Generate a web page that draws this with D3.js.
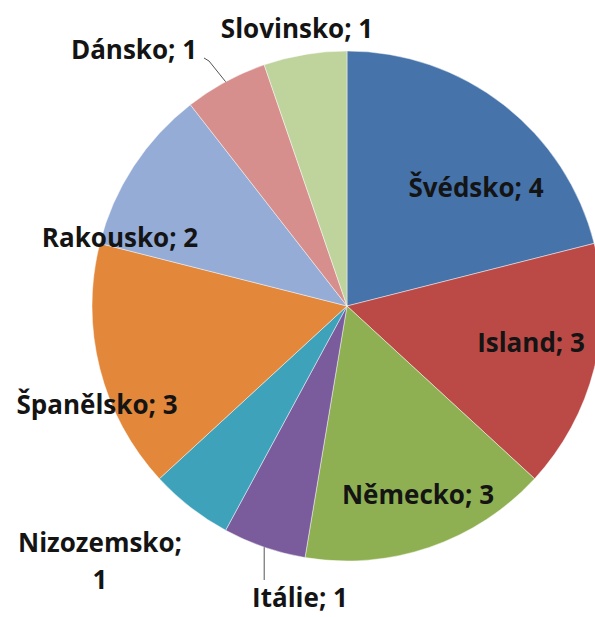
<!DOCTYPE html>
<html><head><meta charset="utf-8">
<script src="https://cdn.jsdelivr.net/npm/d3@7"></script>
<style>html,body{margin:0;padding:0;background:#fff;overflow:hidden}</style>
</head><body>
<svg id="chart" width="595" height="617"></svg>
<script>
// Data
const countries = ["Švédsko","Island","Německo","Itálie","Nizozemsko","Španělsko","Rakousko","Dánsko","Slovinsko"];
const values = [4,3,3,1,1,3,2,1,1];
const colors = ["#4673aa","#bb4a47","#8fb052","#7a5c9c","#3ea2ba","#e3873a","#94acd6","#d68f8d","#bfd49c"];

// Layout
const cx = 347, cy = 306, R = 255;
const labelLayout = [
  {x:476, y:188},
  {x:531, y:343},
  {x:418, y:495},
  {x:300, y:598, leader:[263,580]},
  {x:100, y:543, lines:2},
  {x:97,  y:405},
  {x:120, y:238},
  {x:134, y:50, leader:[204,58,209,61]},
  {x:297, y:29}
];

const svg = d3.select("#chart");
const g = svg.append("g").attr("transform", `translate(${cx},${cy})`);
const pie = d3.pie().sort(null).value(d => d)(values);
const arc = d3.arc().innerRadius(0).outerRadius(R);

g.selectAll("path.slice").data(pie).join("path")
  .attr("class","slice")
  .attr("d", arc)
  .attr("fill", (d,i) => colors[i])
  .attr("stroke", "rgba(255,255,255,0.45)")
  .attr("stroke-width", 1);

pie.forEach((d,i) => {
  const L = labelLayout[i];
  if (!L.leader) return;
  const mid = (d.startAngle + d.endAngle)/2;
  const ex = cx + R*Math.sin(mid), ey = cy - R*Math.cos(mid);
  const pts = [[ex,ey]];
  if (L.leader.length === 2) pts.push([ex, L.leader[1]]);
  else { pts.push([L.leader[2], L.leader[3]]); pts.push([L.leader[0], L.leader[1]]); }
  svg.append("path")
    .attr("d", d3.line()(pts))
    .attr("fill","none").attr("stroke","#555").attr("stroke-width",1);
});

const font = "'Open Sans', Lato, sans-serif";
pie.forEach((d,i) => {
  const L = labelLayout[i];
  const t = svg.append("text")
    .attr("text-anchor","middle")
    .attr("font-family", font)
    .attr("font-weight", "bold")
    .attr("font-size", 26)
    .attr("fill", "#141414");
  if (L.lines === 2) {
    t.append("tspan").attr("x", L.x).attr("y", L.y).attr("dy","0.35em").text(countries[i] + ";");
    t.append("tspan").attr("x", L.x).attr("y", L.y + 37).attr("dy","0.35em").text(values[i]);
  } else {
    t.attr("x", L.x).attr("y", L.y).attr("dy","0.35em").text(countries[i] + "; " + values[i]);
  }
});
</script>
</body></html>
